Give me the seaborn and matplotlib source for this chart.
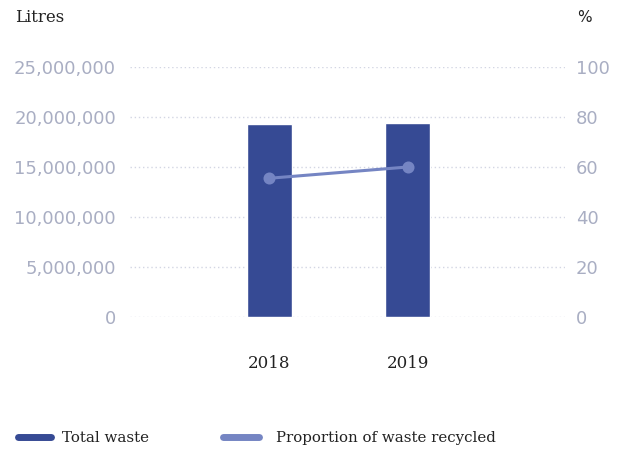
import matplotlib
matplotlib.use("Agg")
import matplotlib.pyplot as plt
import seaborn as sns
import pandas as pd
from matplotlib.lines import Line2D
from matplotlib.ticker import FuncFormatter

years = ["2018", "2019"]
total_waste = [19300000, 19400000]
recycled_pct = [55.5, 60.0]
left_ticks = [0, 5000000, 10000000, 15000000, 20000000, 25000000]
right_ticks = [0, 20, 40, 60, 80, 100]

df = pd.DataFrame({"year": years, "waste": total_waste, "pct": recycled_pct})

sns.set_style("white")
plt.rcParams["font.family"] = ["DejaVu Sans"]

BAR = "#364a94"
LINE = "#7585c3"
TICK = "#a9aec3"
GRID = "#d3d6e3"
SERIF = "DejaVu Serif"

fig = plt.figure(figsize=(6.19, 4.5), dpi=100)
ax = fig.add_axes([130/619, 1-317/450, 435/619, 250/450])

sns.barplot(data=df, x="year", y="waste", color=BAR, width=0.32, ax=ax,
            saturation=1, zorder=2)
ax.set_xlim(-1.01, 2.14)
ax.set_ylim(0, 25000000)
ax.set_yticks(left_ticks)
ax.yaxis.set_major_formatter(FuncFormatter(lambda v, p: f"{int(v):,}"))
ax.grid(axis="y", color=GRID, linestyle=(0, (1, 2)), linewidth=1, zorder=0)
ax.set_axisbelow(True)
ax.set_xlabel("")
ax.set_ylabel("")
for s in ax.spines.values():
    s.set_visible(False)
ax.tick_params(axis="y", length=0, pad=10, labelsize=13, labelcolor=TICK)
ax.tick_params(axis="x", length=0, pad=27, labelsize=12, labelcolor="#222222")
for lbl in ax.get_xticklabels():
    lbl.set_fontfamily(SERIF)

ax2 = ax.twinx()
sns.pointplot(data=df, x="year", y="pct", color=LINE, ax=ax2,
              markers="o", markersize=7, linewidth=2.2, errorbar=None)
ax2.set_xlim(-1.01, 2.14)
ax2.set_ylim(0, 100)
ax2.set_yticks(right_ticks)
ax2.set_ylabel("")
ax2.set_xlabel("")
for s in ax2.spines.values():
    s.set_visible(False)
ax2.tick_params(axis="y", length=0, pad=8, labelsize=13, labelcolor=TICK)

fig.text(15/619, 1-18/450, "Litres", fontsize=12, family=SERIF, color="#222222", va="center")
fig.text(577/619, 1-18/450, "%", fontsize=11, color="#222222", va="center")

h1 = Line2D([], [], color=BAR, linewidth=5, solid_capstyle="round")
h2 = Line2D([], [], color=LINE, linewidth=5, solid_capstyle="round")
leg1 = fig.legend([h1], ["Total waste"],
                  loc="center left", bbox_to_anchor=(4/619, 1-438/450),
                  frameon=False, handlelength=2.2, handletextpad=0.75,
                  prop={"family": SERIF, "size": 10.8})
leg2 = fig.legend([h2], ["Proportion of waste recycled"],
                  loc="center left", bbox_to_anchor=(209/619, 1-438/450),
                  frameon=False, handlelength=2.4, handletextpad=1.2,
                  prop={"family": SERIF, "size": 10.8})
for leg in (leg1, leg2):
    for t in leg.get_texts():
        t.set_color("#222222")

fig.savefig("out.png", dpi=100)
